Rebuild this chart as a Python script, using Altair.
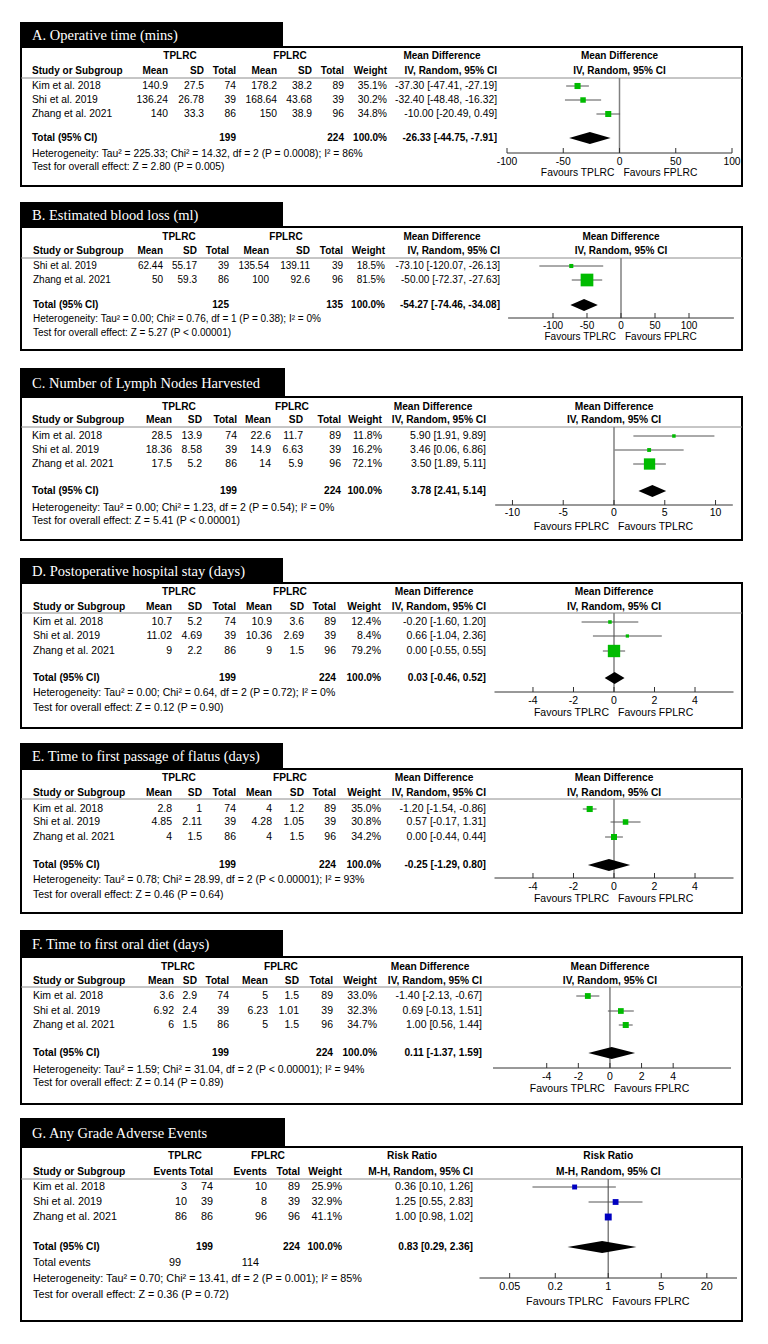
import altair as alt
import pandas as pd

OFF = 8  # page margin
SANS = "Liberation Sans, Arial, Helvetica, sans-serif"
SERIF = "Liberation Serif, Times New Roman, serif"

KIM, SHI, ZHANG = "Kim et al. 2018", "Shi et al. 2019", "Zhang et al. 2021"
GROUPS = ["TPLRC", "FPLRC"]
MD_HEAD = ["Mean Difference", "IV, Random, 95% CI"]
RR_HEAD = ["Risk Ratio", "M-H, Random, 95% CI"]
MD_COLS = ["Mean", "SD", "Total", "Mean", "SD", "Total"]
RR_COLS = ["Events", "Total", "Events", "Total"]

# ---------------- A ----------------
A_title = "A. Operative time (mins)"
A_studies = [KIM, SHI, ZHANG]
A_t_mean = ["140.9", "136.24", "140"]
A_t_sd = ["27.5", "26.78", "33.3"]
A_t_n = ["74", "39", "86"]
A_f_mean = ["178.2", "168.64", "150"]
A_f_sd = ["38.2", "43.68", "38.9"]
A_f_n = ["89", "39", "96"]
A_weight = [35.1, 30.2, 34.8]
A_est = [-37.30, -32.40, -10.00]
A_lo = [-47.41, -48.48, -20.49]
A_hi = [-27.19, -16.32, 0.49]
A_total = ["199", "224"]
A_pooled = [-26.33, -44.75, -7.91]
A_het = "Heterogeneity: Tau² = 225.33; Chi² = 14.32, df = 2 (P = 0.0008); I² = 86%"
A_test = "Test for overall effect: Z = 2.80 (P = 0.005)"
A_ticks = [-100, -50, 0, 50, 100]
A_ticklabels = ["-100", "-50", "0", "50", "100"]
A_favours = ["Favours TPLRC", "Favours FPLRC"]

# ---------------- B ----------------
B_title = "B. Estimated blood loss (ml)"
B_studies = [SHI, ZHANG]
B_t_mean = ["62.44", "50"]
B_t_sd = ["55.17", "59.3"]
B_t_n = ["39", "86"]
B_f_mean = ["135.54", "100"]
B_f_sd = ["139.11", "92.6"]
B_f_n = ["39", "96"]
B_weight = [18.5, 81.5]
B_est = [-73.10, -50.00]
B_lo = [-120.07, -72.37]
B_hi = [-26.13, -27.63]
B_total = ["125", "135"]
B_pooled = [-54.27, -74.46, -34.08]
B_het = "Heterogeneity: Tau² = 0.00; Chi² = 0.76, df = 1 (P = 0.38); I² = 0%"
B_test = "Test for overall effect: Z = 5.27 (P < 0.00001)"
B_ticks = [-100, -50, 0, 50, 100]
B_ticklabels = ["-100", "-50", "0", "50", "100"]
B_favours = ["Favours TPLRC", "Favours FPLRC"]

# ---------------- C ----------------
C_title = "C. Number of Lymph Nodes Harvested"
C_studies = [KIM, SHI, ZHANG]
C_t_mean = ["28.5", "18.36", "17.5"]
C_t_sd = ["13.9", "8.58", "5.2"]
C_t_n = ["74", "39", "86"]
C_f_mean = ["22.6", "14.9", "14"]
C_f_sd = ["11.7", "6.63", "5.9"]
C_f_n = ["89", "39", "96"]
C_weight = [11.8, 16.2, 72.1]
C_est = [5.90, 3.46, 3.50]
C_lo = [1.91, 0.06, 1.89]
C_hi = [9.89, 6.86, 5.11]
C_total = ["199", "224"]
C_pooled = [3.78, 2.41, 5.14]
C_het = "Heterogeneity: Tau² = 0.00; Chi² = 1.23, df = 2 (P = 0.54); I² = 0%"
C_test = "Test for overall effect: Z = 5.41 (P < 0.00001)"
C_ticks = [-10, -5, 0, 5, 10]
C_ticklabels = ["-10", "-5", "0", "5", "10"]
C_favours = ["Favours FPLRC", "Favours TPLRC"]

# ---------------- D ----------------
D_title = "D. Postoperative hospital stay (days)"
D_studies = [KIM, SHI, ZHANG]
D_t_mean = ["10.7", "11.02", "9"]
D_t_sd = ["5.2", "4.69", "2.2"]
D_t_n = ["74", "39", "86"]
D_f_mean = ["10.9", "10.36", "9"]
D_f_sd = ["3.6", "2.69", "1.5"]
D_f_n = ["89", "39", "96"]
D_weight = [12.4, 8.4, 79.2]
D_est = [-0.20, 0.66, 0.00]
D_lo = [-1.60, -1.04, -0.55]
D_hi = [1.20, 2.36, 0.55]
D_total = ["199", "224"]
D_pooled = [0.03, -0.46, 0.52]
D_het = "Heterogeneity: Tau² = 0.00; Chi² = 0.64, df = 2 (P = 0.72); I² = 0%"
D_test = "Test for overall effect: Z = 0.12 (P = 0.90)"
D_ticks = [-4, -2, 0, 2, 4]
D_ticklabels = ["-4", "-2", "0", "2", "4"]
D_favours = ["Favours TPLRC", "Favours FPLRC"]

# ---------------- E ----------------
E_title = "E. Time to first passage of flatus (days)"
E_studies = [KIM, SHI, ZHANG]
E_t_mean = ["2.8", "4.85", "4"]
E_t_sd = ["1", "2.11", "1.5"]
E_t_n = ["74", "39", "86"]
E_f_mean = ["4", "4.28", "4"]
E_f_sd = ["1.2", "1.05", "1.5"]
E_f_n = ["89", "39", "96"]
E_weight = [35.0, 30.8, 34.2]
E_est = [-1.20, 0.57, 0.00]
E_lo = [-1.54, -0.17, -0.44]
E_hi = [-0.86, 1.31, 0.44]
E_total = ["199", "224"]
E_pooled = [-0.25, -1.29, 0.80]
E_het = "Heterogeneity: Tau² = 0.78; Chi² = 28.99, df = 2 (P < 0.00001); I² = 93%"
E_test = "Test for overall effect: Z = 0.46 (P = 0.64)"
E_ticks = [-4, -2, 0, 2, 4]
E_ticklabels = ["-4", "-2", "0", "2", "4"]
E_favours = ["Favours TPLRC", "Favours FPLRC"]

# ---------------- F ----------------
F_title = "F. Time to first oral diet (days)"
F_studies = [KIM, SHI, ZHANG]
F_t_mean = ["3.6", "6.92", "6"]
F_t_sd = ["2.9", "2.4", "1.5"]
F_t_n = ["74", "39", "86"]
F_f_mean = ["5", "6.23", "5"]
F_f_sd = ["1.5", "1.01", "1.5"]
F_f_n = ["89", "39", "96"]
F_weight = [33.0, 32.3, 34.7]
F_est = [-1.40, 0.69, 1.00]
F_lo = [-2.13, -0.13, 0.56]
F_hi = [-0.67, 1.51, 1.44]
F_total = ["199", "224"]
F_pooled = [0.11, -1.37, 1.59]
F_het = "Heterogeneity: Tau² = 1.59; Chi² = 31.04, df = 2 (P < 0.00001); I² = 94%"
F_test = "Test for overall effect: Z = 0.14 (P = 0.89)"
F_ticks = [-4, -2, 0, 2, 4]
F_ticklabels = ["-4", "-2", "0", "2", "4"]
F_favours = ["Favours TPLRC", "Favours FPLRC"]

# ---------------- G ----------------
G_title = "G. Any Grade Adverse Events"
G_studies = [KIM, SHI, ZHANG]
G_t_ev = ["3", "10", "86"]
G_t_n = ["74", "39", "86"]
G_f_ev = ["10", "8", "96"]
G_f_n = ["89", "39", "96"]
G_weight = [25.9, 32.9, 41.1]
G_est = [0.36, 1.25, 1.00]
G_lo = [0.10, 0.55, 0.98]
G_hi = [1.26, 2.83, 1.02]
G_total = ["199", "224"]
G_events = ["99", "114"]
G_pooled = [0.83, 0.29, 2.36]
G_het = "Heterogeneity: Tau² = 0.70; Chi² = 13.41, df = 2 (P = 0.001); I² = 85%"
G_test = "Test for overall effect: Z = 0.36 (P = 0.72)"
G_ticks = [0.05, 0.2, 1, 5, 20]
G_ticklabels = ["0.05", "0.2", "1", "5", "20"]
G_favours = ["Favours TPLRC", "Favours FPLRC"]


def md_panel(title, studies, cols, weight, est, lo, hi, total, pooled, het, test, ticks, ticklabels, favours):
    return dict(title=title, studies=studies, cols=cols, col_labels=MD_COLS, n_idx=(2, 5),
                weight=weight, est=est, lo=lo, hi=hi, total=total, pooled=pooled, het=het,
                test=test, ticks=ticks, ticklabels=ticklabels, favours=favours, head=MD_HEAD,
                null=0, color="#00bb00", events=None)


PANELS = [
    md_panel(A_title, A_studies, [A_t_mean, A_t_sd, A_t_n, A_f_mean, A_f_sd, A_f_n], A_weight, A_est, A_lo, A_hi,
             A_total, A_pooled, A_het, A_test, A_ticks, A_ticklabels, A_favours),
    md_panel(B_title, B_studies, [B_t_mean, B_t_sd, B_t_n, B_f_mean, B_f_sd, B_f_n], B_weight, B_est, B_lo, B_hi,
             B_total, B_pooled, B_het, B_test, B_ticks, B_ticklabels, B_favours),
    md_panel(C_title, C_studies, [C_t_mean, C_t_sd, C_t_n, C_f_mean, C_f_sd, C_f_n], C_weight, C_est, C_lo, C_hi,
             C_total, C_pooled, C_het, C_test, C_ticks, C_ticklabels, C_favours),
    md_panel(D_title, D_studies, [D_t_mean, D_t_sd, D_t_n, D_f_mean, D_f_sd, D_f_n], D_weight, D_est, D_lo, D_hi,
             D_total, D_pooled, D_het, D_test, D_ticks, D_ticklabels, D_favours),
    md_panel(E_title, E_studies, [E_t_mean, E_t_sd, E_t_n, E_f_mean, E_f_sd, E_f_n], E_weight, E_est, E_lo, E_hi,
             E_total, E_pooled, E_het, E_test, E_ticks, E_ticklabels, E_favours),
    md_panel(F_title, F_studies, [F_t_mean, F_t_sd, F_t_n, F_f_mean, F_f_sd, F_f_n], F_weight, F_est, F_lo, F_hi,
             F_total, F_pooled, F_het, F_test, F_ticks, F_ticklabels, F_favours),
    dict(title=G_title, studies=G_studies, cols=[G_t_ev, G_t_n, G_f_ev, G_f_n], col_labels=RR_COLS, n_idx=(1, 3),
         weight=G_weight, est=G_est, lo=G_lo, hi=G_hi, total=G_total, pooled=G_pooled, het=G_het, test=G_test,
         ticks=G_ticks, ticklabels=G_ticklabels, favours=G_favours, head=RR_HEAD, null=1, color="#0000c0",
         events=G_events),
]

# ---------------- layout (pixel positions in the page) ----------------
COLS_CDE = (172, 202, 236, 272, 304, 336)
LAYOUT = [
    dict(tbox=(20, 22, 283), frame=(21, 47, 742, 186), hdr=(56, 71), sep=78, rows=(86, 100, 114), total=138,
         het=154, test=167, axis=153, tlab=162, fav=173, fs=10.3, fsb=10, study_x=32, grp_x=(180, 290),
         col_x=(168, 204, 236, 277, 312, 344), weight_x=387, eff_h=442, eff_x=497,
         dom=(-100, 100), rng=(507, 732)),
    dict(tbox=(20, 202, 283), frame=(21, 227, 742, 350), hdr=(237, 251), sep=258, rows=(266, 280), total=305,
         het=319, test=333, axis=318, tlab=326, fav=337, fs=10, fsb=10, study_x=33, grp_x=(179, 286),
         col_x=(163, 197, 229, 269, 310, 343), weight_x=385, eff_h=442, eff_x=500,
         dom=(-166, 166), rng=(508.1, 733.9)),
    dict(tbox=(20, 368, 285), frame=(21, 397, 742, 540), hdr=(407, 420), sep=427, rows=(436, 450, 464), total=491,
         het=508, test=521, axis=505, tlab=513, fav=527, fs=10.5, fsb=10.2, study_x=32, grp_x=(179, 292),
         col_x=(172, 202, 237, 271, 303, 341), weight_x=382, eff_h=433, eff_x=486,
         dom=(-11.7, 11.7), rng=(495.2, 732.8)),
    dict(tbox=(20, 558, 283), frame=(21, 583, 742, 728), hdr=(592, 607), sep=613, rows=(622, 636, 651), total=678,
         het=693, test=708, axis=692, tlab=701, fav=713, fs=10.5, fsb=10.2, study_x=33, grp_x=(179, 290),
         col_x=COLS_CDE, weight_x=381, eff_h=434, eff_x=486,
         dom=(-5.9, 5.9), rng=(494.5, 733.5)),
    dict(tbox=(20, 743, 283), frame=(21, 769, 742, 913), hdr=(778, 793), sep=799, rows=(809, 822, 837), total=865,
         het=880, test=895, axis=878, tlab=887, fav=899, fs=10.5, fsb=10.2, study_x=33, grp_x=(179, 290),
         col_x=COLS_CDE, weight_x=381, eff_h=434, eff_x=486,
         dom=(-5.9, 5.9), rng=(494.5, 733.5)),
    dict(tbox=(20, 930, 283), frame=(21, 957, 742, 1104), hdr=(967, 981), sep=987, rows=(996, 1011, 1025), total=1053,
         het=1070, test=1083, axis=1068, tlab=1077, fav=1089, fs=10.5, fsb=10.2, study_x=33, grp_x=(178, 281),
         col_x=(174, 197, 229, 268, 299, 333), weight_x=377, eff_h=430, eff_x=482,
         dom=(-7.4, 7.66), rng=(493, 731)),
    dict(tbox=(20, 1118, 285), frame=(21, 1147, 742, 1321), hdr=(1156, 1172), sep=1179, rows=(1187, 1202, 1217),
         total=1247, events=1263, events_x=(181, 259), het=1279, test=1295, axis=1278, tlab=1287, fav=1302,
         fs=10.8, fsb=10.2, study_x=33, grp_x=(185, 268), col_x=(187, 213, 267, 300), weight_x=342, eff_h=412,
         eff_x=473, dom=(0.02, 50), rng=(479.5, 737), stype="log"),
]

CI_COLOR = "#555555"
NULL_COLOR = "#808080"
AXIS_COLOR = "#333333"


def fmt(e, l, h):
    return f"{e:.2f} [{l:.2f}, {h:.2f}]"


# ---------------- table text cells ----------------
cells = []
titles = []
frames = []
tboxes = []
seps = []
for p, L in zip(PANELS, LAYOUT):

    def add(style, x, y, t, L=L):
        fs = L["fsb"] if style.endswith("b") else L["fs"]
        cells.append(dict(style=style, x=x - OFF, y=y - OFF, t=t, fs=fs))

    x0, y0, x1 = L["tbox"]
    fx0, fy0, fx1, fy1 = L["frame"]
    tboxes.append(dict(x=x0 - OFF, x2=x1 - OFF, y=y0 - OFF, y2=fy0 + 1 - OFF))
    titles.append(dict(x=32 - OFF, y=(y0 + fy0) / 2 + 1 - OFF, t=p["title"]))
    frames.append(dict(x=fx0 - OFF, x2=fx1 - OFF, y=fy0 - OFF, y2=fy1 - OFF))
    seps.append(dict(x=fx0 - OFF, x2=fx1 - OFF, y=L["sep"] - OFF))

    h1, h2 = L["hdr"]
    add("Cb", L["grp_x"][0], h1, GROUPS[0])
    add("Cb", L["grp_x"][1], h1, GROUPS[1])
    add("Cb", L["eff_h"], h1, p["head"][0])
    add("Lb", L["study_x"], h2, "Study or Subgroup")
    for x, lab in zip(L["col_x"], p["col_labels"]):
        add("Rb", x, h2, lab)
    add("Rb", L["weight_x"], h2, "Weight")
    add("Rb", L["eff_x"], h2, p["head"][1])
    for i, s in enumerate(p["studies"]):
        y = L["rows"][i]
        add("L", L["study_x"], y, s)
        for x, col in zip(L["col_x"], p["cols"]):
            add("R", x, y, col[i])
        add("R", L["weight_x"], y, f"{p['weight'][i]:.1f}%")
        add("R", L["eff_x"], y, fmt(p["est"][i], p["lo"][i], p["hi"][i]))
    add("Lb", L["study_x"], L["total"], "Total (95% CI)")
    add("Rb", L["col_x"][p["n_idx"][0]], L["total"], p["total"][0])
    add("Rb", L["col_x"][p["n_idx"][1]], L["total"], p["total"][1])
    add("Rb", L["weight_x"], L["total"], "100.0%")
    add("Rb", L["eff_x"], L["total"], fmt(*p["pooled"]))
    if p["events"] is not None:
        add("L", L["study_x"], L["events"], "Total events")
        add("R", L["events_x"][0], L["events"], p["events"][0])
        add("R", L["events_x"][1], L["events"], p["events"][1])
    add("L", L["study_x"], L["het"], p["het"])
    add("L", L["study_x"], L["test"], p["test"])

cells_df = pd.DataFrame(cells)

PX = lambda f: alt.X(f, type="quantitative", scale=None, axis=None)
PY = lambda f: alt.Y(f, type="quantitative", scale=None, axis=None)

layers = []
layers.append(alt.Chart(pd.DataFrame(frames)).mark_rect(fill="white", fillOpacity=0, stroke="black", strokeWidth=2)
              .encode(x=PX("x"), x2="x2", y=PY("y"), y2="y2"))
layers.append(alt.Chart(pd.DataFrame(seps)).mark_rule(color="#8c8c8c", strokeWidth=1)
              .encode(x=PX("x"), x2="x2", y=PY("y")))
layers.append(alt.Chart(pd.DataFrame(tboxes)).mark_rect(color="black")
              .encode(x=PX("x"), x2="x2", y=PY("y"), y2="y2"))
layers.append(alt.Chart(pd.DataFrame(titles)).mark_text(align="left", baseline="middle", font=SERIF, fontSize=14.5,
                                                         color="white")
              .encode(x=PX("x"), y=PY("y"), text="t:N"))

STYLES = {"L": ("left", "normal"), "R": ("right", "normal"), "Lb": ("left", "bold"),
          "Rb": ("right", "bold"), "Cb": ("center", "bold")}
for st, (al, fw) in STYLES.items():
    sub = cells_df[cells_df["style"] == st]
    layers.append(alt.Chart(sub).mark_text(align=al, baseline="middle", font=SANS, fontWeight=fw, color="black")
                  .encode(x=PX("x"), y=PY("y"), text="t:N",
                          size=alt.Size("fs:Q", scale=None, legend=None)))

# ---------------- forest plots ----------------
for p, L in zip(PANELS, LAYOUT):
    skw = dict(domain=list(L["dom"]), range=[L["rng"][0] - OFF, L["rng"][1] - OFF], nice=False)
    if L.get("stype") == "log":
        skw["type"] = "log"
    sc = alt.Scale(**skw)
    X = lambda f, sc=sc: alt.X(f, type="quantitative", scale=sc, axis=None)
    n = len(p["studies"])
    fs = L["fs"]
    rows_df = pd.DataFrame(dict(est=p["est"], lo=p["lo"], hi=p["hi"], w=p["weight"],
                                y=[r - OFF for r in L["rows"][:n]]))
    e, lo, hi = p["pooled"]
    c = L["total"] - OFF
    dia = pd.DataFrame(dict(x=[lo, e, hi], y=[c, c - 6, c], y2=[c, c + 6, c]))
    null_df = pd.DataFrame(dict(v=[p["null"]]))
    ax_df = pd.DataFrame(dict(a=[L["dom"][0]], b=[L["dom"][1]]))
    tick_df = pd.DataFrame(dict(v=p["ticks"], lab=p["ticklabels"]))
    head_df = pd.DataFrame(dict(v=[p["null"], p["null"]], t=p["head"], y=[L["hdr"][0] - OFF, L["hdr"][1] - OFF]))
    fav_df = pd.DataFrame(dict(v=[p["null"]], l=[p["favours"][0]], r=[p["favours"][1]]))

    layers += [
        alt.Chart(null_df).mark_rule(color=NULL_COLOR, strokeWidth=1.5)
        .encode(x=X("v"), y=alt.value(L["sep"] - OFF), y2=alt.value(L["axis"] - OFF)),
        alt.Chart(ax_df).mark_rule(color=AXIS_COLOR, strokeWidth=1)
        .encode(x=X("a"), x2="b", y=alt.value(L["axis"] - OFF)),
        alt.Chart(tick_df).mark_rule(color=AXIS_COLOR, strokeWidth=1)
        .encode(x=X("v"), y=alt.value(L["axis"] - 5 - OFF), y2=alt.value(L["axis"] - OFF)),
        alt.Chart(tick_df).mark_text(align="center", baseline="middle", font=SANS, fontSize=fs, color="black")
        .encode(x=X("v"), y=alt.value(L["tlab"] - OFF), text="lab:N"),
        alt.Chart(fav_df).mark_text(align="right", baseline="middle", font=SANS, fontSize=fs, color="black", dx=-5)
        .encode(x=X("v"), y=alt.value(L["fav"] - OFF), text="l:N"),
        alt.Chart(fav_df).mark_text(align="left", baseline="middle", font=SANS, fontSize=fs, color="black", dx=4)
        .encode(x=X("v"), y=alt.value(L["fav"] - OFF), text="r:N"),
        alt.Chart(head_df).mark_text(align="center", baseline="middle", font=SANS, fontSize=L["fsb"],
                                     fontWeight="bold", color="black")
        .encode(x=X("v"), y=PY("y"), text="t:N"),
        alt.Chart(rows_df).mark_rule(color=CI_COLOR, strokeWidth=1)
        .encode(x=X("lo"), x2="hi", y=PY("y")),
        alt.Chart(rows_df).mark_square(color=p["color"], opacity=1, filled=True)
        .encode(x=X("est"), y=PY("y"),
                size=alt.Size("w:Q", scale=alt.Scale(type="pow", exponent=2, domain=[0, 100], range=[9, 238]),
                              legend=None)),
        alt.Chart(dia).mark_area(color="black", opacity=1)
        .encode(x=X("x"), y=alt.Y("y:Q", scale=None, axis=None, stack=None), y2="y2"),
    ]

chart = (alt.layer(*layers)
         .resolve_scale(x="independent", y="independent", size="independent")
         .properties(width=752, height=1328, padding=0, autosize="none", background="white")
         .configure_view(stroke=None))

chart.save("out.html", embed_options={"renderer": "svg", "actions": False})
